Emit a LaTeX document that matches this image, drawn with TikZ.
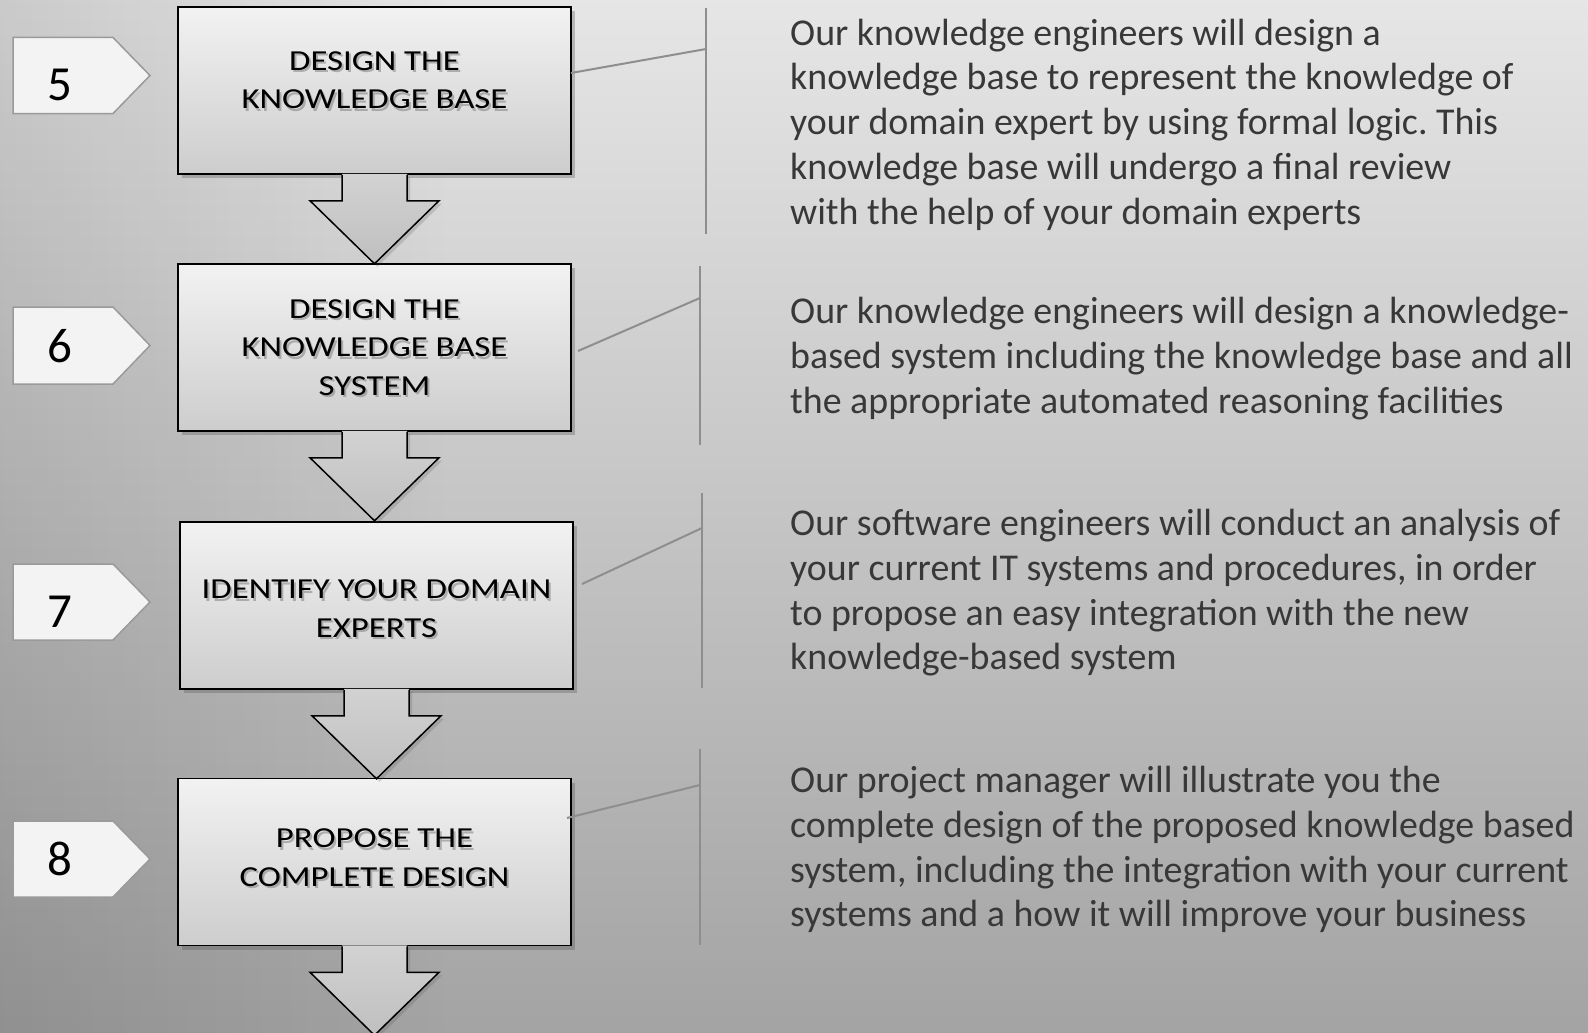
\documentclass[tikz,border=0pt]{standalone}
\usepackage{fontspec}
\setmainfont{Carlito}
\newfontfamily\titlefont[FakeStretch=1.2]{Carlito}
\usetikzlibrary{calc,shadows,fadings}
\frenchspacing
\definecolor{bgtop}{HTML}{E6E6E6}
\definecolor{bgbot}{HTML}{A3A3A3}
\definecolor{boxtop}{HTML}{F2F2F2}
\definecolor{boxbot}{HTML}{CDCDCD}
\definecolor{arrtop}{HTML}{D2D2D2}
\definecolor{arrbot}{HTML}{BFBFBF}
\definecolor{tagfill}{HTML}{F3F3F3}
\definecolor{tagline}{HTML}{9A9A9A}
\definecolor{connline}{HTML}{8E8E8E}
\definecolor{paratext}{HTML}{383838}
\newcommand\tagbox[3]{%
  \draw[tagstyle] (13,#2) -- (113,#2) -- (150,{(#2+#3)/2}) -- (113,#3) -- (13,#3) -- cycle;}
\newcommand\boxtitle[3]{%
  \node[titlesh] at ($(#1)+(2,2.5)$) {#3};
  \node[titletext] (#2) at (#1) {#3};}
\newcommand\blockarrow[1]{%
  \path[arrowfill] ($(#1.south)+(-32.5,-1)$) -- ++(0,27) -- ++(-32,0) -- ++(64.5,63) -- ++(64.5,-63) -- ++(-32,0) -- ++(0,-27) -- cycle;
  \draw[arrowline] ($(#1.south)+(-32.5,0)$) -- ++(0,26) -- ++(-32,0) -- ++(64.5,63) -- ++(64.5,-63) -- ++(-32,0) -- ++(0,-26);}
\begin{document}
\begin{tikzpicture}[x=1pt,y=-1pt,
  kbox/.style={draw=black, line width=1.5pt, top color=boxtop, bottom color=boxbot,
    minimum width=393pt, minimum height=167pt, inner sep=0pt,
    drop shadow={shadow xshift=4pt, shadow yshift=-4pt, opacity=0.3, fill=black!70}},
  titletext/.style={font=\titlefont\fontsize{29}{38.5}\selectfont, align=center, text=black, inner sep=0pt},
  titlesh/.style={font=\titlefont\fontsize{29}{38.5}\selectfont, align=center, text=black!50, opacity=0.55, inner sep=0pt},
  arrowfill/.style={top color=arrtop, bottom color=arrbot,
    drop shadow={shadow xshift=3pt, shadow yshift=-3pt, opacity=0.2, fill=black!70}},
  arrowline/.style={draw=black, line width=1.5pt, line join=miter},
  tagstyle/.style={draw=tagline, line width=1.5pt, fill=tagfill},
  tagnum/.style={font=\fontsize{49}{49}\selectfont, text=black, inner sep=0pt},
  conn/.style={draw=connline, line width=2pt},
  para/.style={font=\fontsize{37.9}{44.7}\selectfont, align=left, text=paratext, anchor=west, inner sep=0pt}]
\useasboundingbox (0,0) rectangle (1588,1033);
\shade[top color=bgtop, bottom color=bgbot] (-5,-5) rectangle (1593,1038);
\fill[black, opacity=0.12, path fading=east] (-20,-20) rectangle (450,1053);

% tags
\tagbox{t5}{37.5}{113.5}
\node[tagnum] (n5) at (60,85) {5};
\tagbox{t6}{307}{384}
\node[tagnum] (n6) at (60,346) {6};
\tagbox{t7}{564}{640}
\node[tagnum] (n7) at (60,612) {7};
\tagbox{t8}{821}{897}
\node[tagnum] (n8) at (60,859) {8};

% boxes
\node[kbox] (b5) at (374.5,90.5) {};
\node[kbox] (b6) at (374.5,347.5) {};
\node[kbox] (b7) at (376.5,605.5) {};
\node[kbox] (b8) at (374.5,862) {};

\blockarrow{b5}
\blockarrow{b6}
\blockarrow{b7}
\blockarrow{b8}

\coordinate (l5) at (374.5,80);
\coordinate (l6) at (374.5,347.5);
\coordinate (l7) at (376.5,608.5);
\coordinate (l8) at (374.5,857.5);
\boxtitle{l5}{h5}{DESIGN THE\\KNOWLEDGE BASE}
\boxtitle{l6}{h6}{DESIGN THE\\KNOWLEDGE BASE\\SYSTEM}
\boxtitle{l7}{h7}{IDENTIFY YOUR DOMAIN\\EXPERTS}
\boxtitle{l8}{h8}{PROPOSE THE\\COMPLETE DESIGN}

% connectors
\coordinate (s5) at (571,73);  \coordinate (j5) at (706,49);
\coordinate (v5t) at (706,8);  \coordinate (v5b) at (706,234);
\coordinate (s6) at (578,351); \coordinate (j6) at (700,298);
\coordinate (v6t) at (700,266); \coordinate (v6b) at (700,445);
\coordinate (s7) at (582,584); \coordinate (j7) at (702,528);
\coordinate (v7t) at (702,493); \coordinate (v7b) at (702,688);
\coordinate (s8) at (567,818); \coordinate (j8) at (700,785);
\coordinate (v8t) at (700,749); \coordinate (v8b) at (700,945);
\draw[conn] (s5) -- (j5); \draw[conn] (v5t) -- (v5b);
\draw[conn] (s6) -- (j6); \draw[conn] (v6t) -- (v6b);
\draw[conn] (s7) -- (j7); \draw[conn] (v7t) -- (v7b);
\draw[conn] (s8) -- (j8); \draw[conn] (v8t) -- (v8b);

% paragraphs
\node[para] (p5) at (790,124.5) {Our knowledge engineers will design a\\knowledge base to represent the knowledge of\\your domain expert by using formal logic. This\\knowledge base will undergo a final review\\with the help of your domain experts};
\node[para] (p6) at (790,358.5) {Our knowledge engineers will design a knowledge-\\based system including the knowledge base and all\\the appropriate automated reasoning facilities};
\node[para] (p7) at (790,593) {Our software engineers will conduct an analysis of\\your current IT systems and procedures, in order\\to propose an easy integration with the new\\knowledge-based system};
\node[para] (p8) at (790,849.7) {Our project manager will illustrate you the\\complete design of the proposed knowledge based\\system, including the integration with your current\\systems and a how it will improve your business};
\end{tikzpicture}
\end{document}
